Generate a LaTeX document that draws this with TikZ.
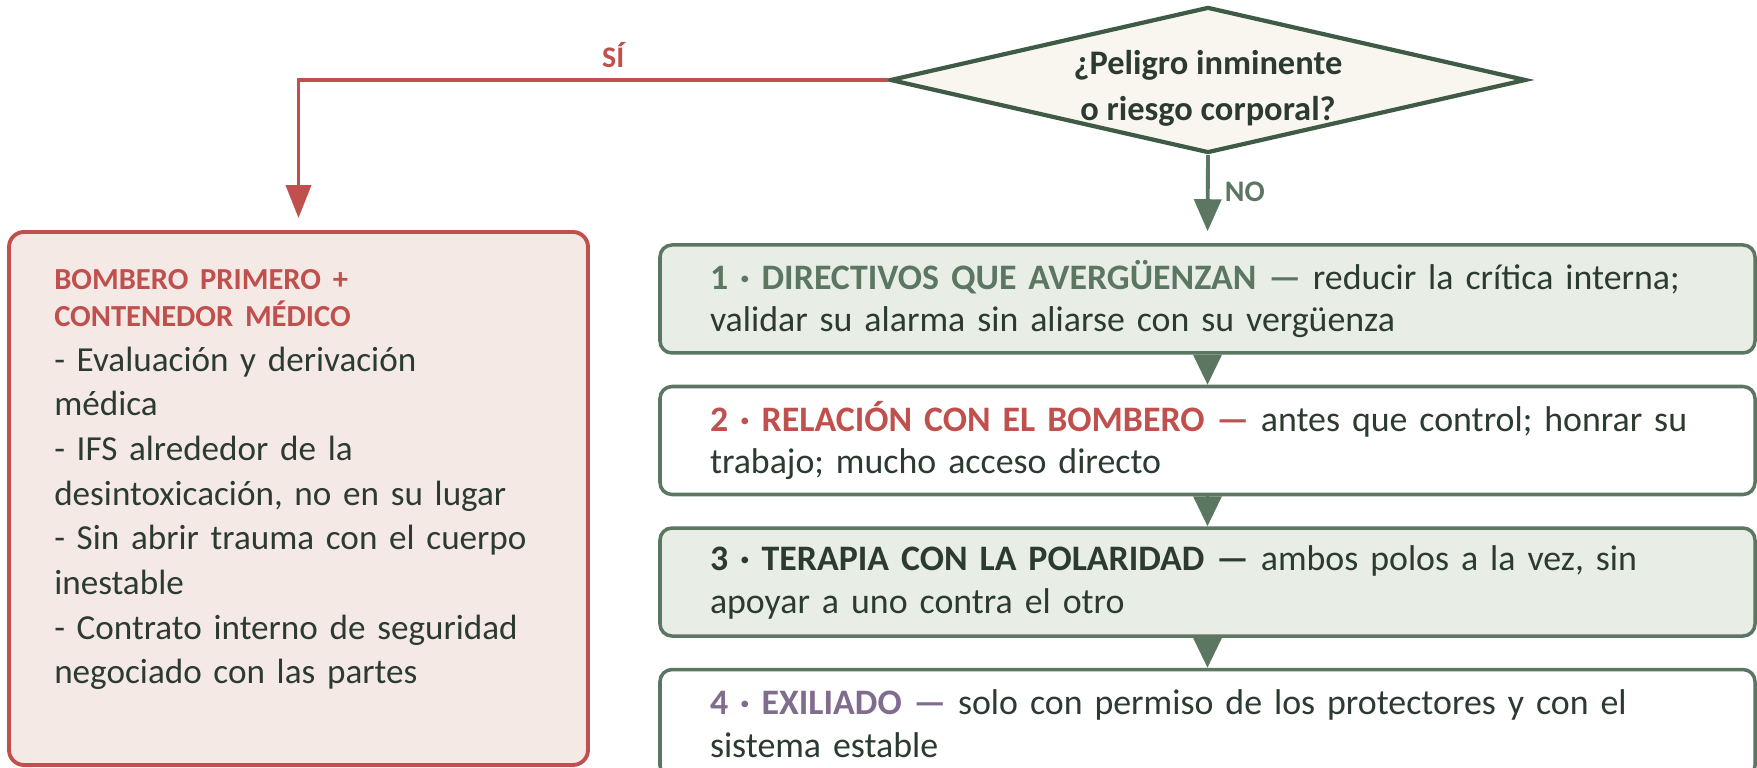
\documentclass[tikz,border=0pt]{standalone}
\usepackage{fontspec}
\setmainfont{Carlito}
\usetikzlibrary{arrows.meta, positioning, shapes.geometric}

\definecolor{rojo}{HTML}{C0504D}
\definecolor{verdeosc}{HTML}{3F5B46}
\definecolor{verde}{HTML}{5B7762}
\definecolor{verdeclaro}{HTML}{E8EEE5}
\definecolor{crema}{HTML}{F8F6EF}
\definecolor{rosado}{HTML}{F5E9E6}
\definecolor{tinta}{HTML}{2C3B30}
\definecolor{violeta}{HTML}{806C8C}

\begin{document}
\begin{tikzpicture}[
        pregunta/.style={diamond, aspect=4.36, draw=verdeosc, fill=crema, line width=1.2pt, minimum width=6.36cm, minimum height=1.46cm, inner sep=0pt, text=tinta, font=\fontsize{9.8}{13}\selectfont\bfseries},
        paso/.style={draw=verde, line width=1pt, rounded corners=0.12cm, minimum height=1.08cm, text width=9.95cm, inner xsep=0.5cm, align=left, text=tinta, font=\fontsize{10.2}{12.2}\selectfont},
        alerta/.style={draw=rojo, fill=rosado, line width=1.1pt, rounded corners=0.15cm, minimum width=5.79cm, minimum height=5.33cm},
        alertatexto/.style={text width=5cm, inner sep=0pt, align=left, text=tinta, font=\fontsize{10}{12.7}\selectfont},
        siflecha/.style={draw=rojo, line width=1.1pt, -{Triangle[length=0.33cm, width=0.25cm]}},
        noflecha/.style={draw=verde, line width=1.1pt, -{Triangle[length=0.32cm, width=0.27cm]}},
        pasoflecha/.style={draw=verde, line width=1pt, -{Triangle[length=0.3cm, width=0.28cm]}},
        etiqueta/.style={font=\fontsize{8.5}{10}\selectfont\bfseries}
    ]
    \useasboundingbox (0,0) rectangle (17.57,7.68);

    % decision
    \node[pregunta] (peligro) at (12.08,6.88) {\raisebox{-0.17cm}[0pt][0pt]{\begin{tabular}{@{}c@{}}¿Peligro inminente\\o riesgo corporal?\end{tabular}}};

    % columna de pasos
    \node[paso, fill=verdeclaro] (d1) at (12.075,4.69) {\textbf{\color{verde}1 · DIRECTIVOS QUE AVERGÜENZAN —} reducir la crítica interna;\\validar su alarma sin aliarse con su vergüenza};
    \node[paso, fill=white, below=0.3cm of d1] (d2) {\textbf{\color{rojo}2 · RELACIÓN CON EL BOMBERO —} antes que control; honrar su\\trabajo; mucho acceso directo};
    \node[paso, fill=verdeclaro, below=0.3cm of d2] (d3) {\textbf{3 · TERAPIA CON LA POLARIDAD —} ambos polos a la vez, sin\\apoyar a uno contra el otro};
    \node[paso, fill=white, below=0.3cm of d3] (d4) {\textbf{\color{violeta}4 · EXILIADO —} solo con permiso de los protectores y con el\\sistema estable};

    % caja de emergencia
    \node[alerta] (bombero) at (2.985,2.695) {};
    \node[alertatexto, below right=0.39cm and 0.465cm of bombero.north west] (bomberotexto) {{\fontsize{8.7}{10.5}\selectfont\bfseries\color{rojo}BOMBERO PRIMERO +\\CONTENEDOR MÉDICO\par}- Evaluación y derivación\\médica\\- IFS alrededor de la\\desintoxicación, no en su lugar\\- Sin abrir trauma con el cuerpo\\inestable\\- Contrato interno de seguridad\\negociado con las partes};

    % flechas
    \draw[siflecha, shorten >=0.12cm] (peligro.west) -| node[etiqueta, text=rojo, above=-0.5pt, pos=0.233] (si) {SÍ} (bombero.north);
    \draw[noflecha, shorten >=0.12cm] (peligro.south) -- node[etiqueta, text=verde, right=1pt, pos=0.42] (no) {NO} (d1.north);
    \foreach \a/\b in {d1/d2, d2/d3, d3/d4} {
        \draw[pasoflecha] (\a.south) -- (\b.north);
    }
\end{tikzpicture}
\end{document}
